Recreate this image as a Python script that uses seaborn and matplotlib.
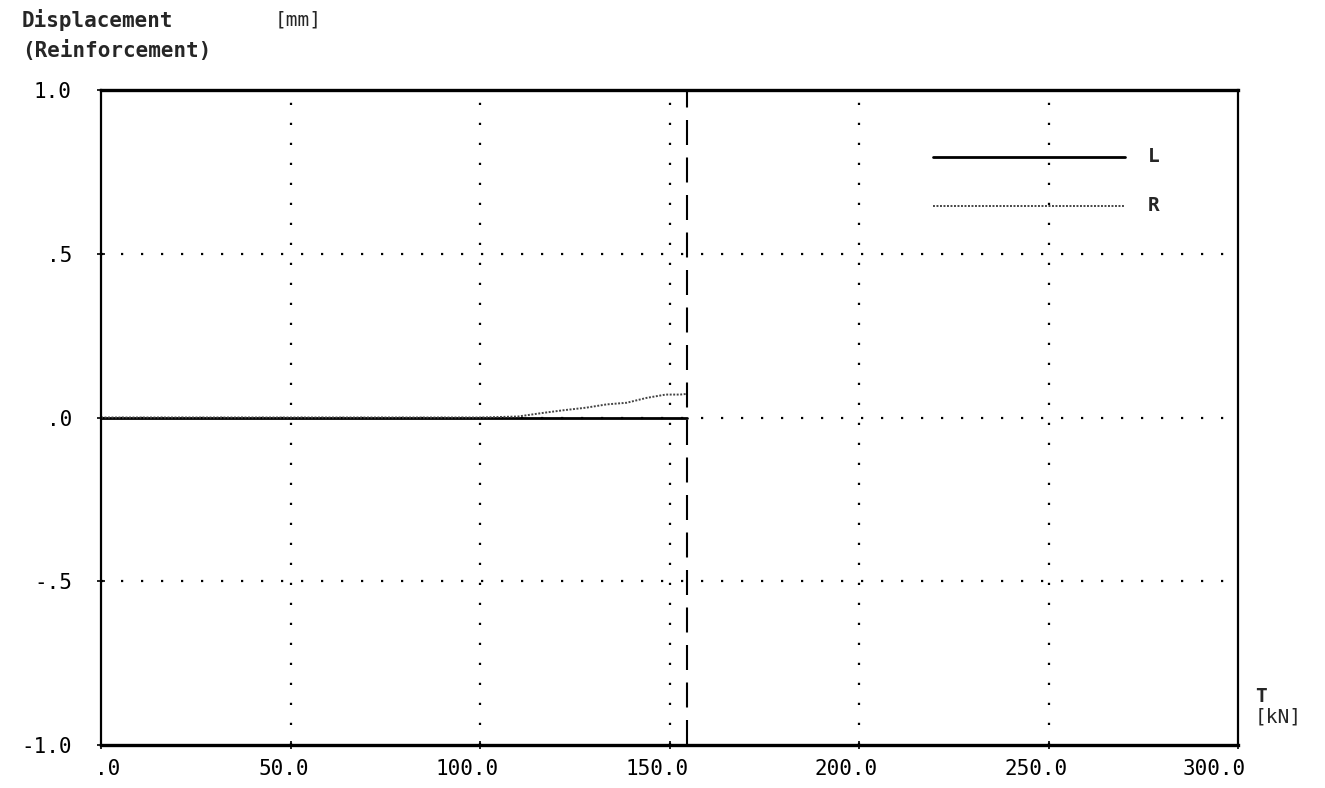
import matplotlib
matplotlib.use("Agg")
import matplotlib.pyplot as plt
import matplotlib.transforms as mtransforms
import seaborn as sns
import pandas as pd

# ---- data ----
T_L = [0.0, 50.0, 100.0, 154.5]
disp_L = [0.0, 0.0, 0.0, 0.0]

T_R = [0.0, 80.0, 100.0, 110.0, 116.6, 121.9, 128.0, 133.4, 138.7, 144.0, 149.0, 152.8, 154.5]
disp_R = [0.0, 0.0, 0.0, 0.003, 0.014, 0.022, 0.030, 0.040, 0.045, 0.060, 0.070, 0.070, 0.072]

failure_load = 154.5

x_ticks = [0, 50, 100, 150, 200, 250, 300]
x_tick_labels = [".0", "50.0", "100.0", "150.0", "200.0", "250.0", "300.0"]
y_ticks = [-1.0, -0.5, 0.0, 0.5, 1.0]
y_tick_labels = ["-1.0", "-.5", ".0", ".5", "1.0"]

legend_labels = ["L", "R"]

# ---- styling ----
sns.set_style("white")
plt.rcParams["font.family"] = ["DejaVu Sans Mono", "DejaVu Sans"]

df_L = pd.DataFrame({"T": T_L, "disp": disp_L})
df_R = pd.DataFrame({"T": T_R, "disp": disp_R})

fig = plt.figure(figsize=(13.25, 7.88), dpi=100)
ax = fig.add_axes([101 / 1325, 1 - 745 / 788, 1137 / 1325, 655 / 788])

sns.lineplot(data=df_L, x="T", y="disp", ax=ax, color="black", linewidth=2.0,
             estimator=None, sort=False)
sns.lineplot(data=df_R, x="T", y="disp", ax=ax, color="#444444", linewidth=1.4,
             estimator=None, sort=False, linestyle=(0, (1, 0.8)))

ax.axvline(failure_load, color="black", linewidth=1.5, linestyle=(0, (12, 6)), zorder=3)

ax.set_xlim(0, 300)
ax.set_ylim(-1.0, 1.0)

# dotted grid
for xv in x_ticks[1:-1]:
    ax.axvline(xv, color="black", linewidth=1.6, linestyle=(0, (1, 8)), zorder=1)
for yv in y_ticks[1:-1]:
    ax.axhline(yv, color="black", linewidth=1.6, linestyle=(0, (1, 8)), zorder=1)

for side in ["top", "bottom"]:
    ax.spines[side].set_linewidth(2.4)
    ax.spines[side].set_color("black")
for side in ["left", "right"]:
    ax.spines[side].set_linewidth(1.6)
    ax.spines[side].set_color("black")
    ax.spines[side].set_visible(True)

ax.set_xticks(x_ticks)
ax.set_xticklabels(x_tick_labels)
ax.set_yticks(y_ticks)
ax.set_yticklabels(y_tick_labels)
ax.tick_params(axis="both", direction="inout", length=6, width=1.2, colors="black",
               labelsize=15, bottom=True, left=True)
ax.tick_params(axis="x", pad=7)
ax.tick_params(axis="y", pad=18)
ax.set_xlabel("")
ax.set_ylabel("")

# x tick labels right-aligned a little past the tick
for i, lab in enumerate(ax.get_xticklabels()):
    dx = 19 if i < len(x_ticks) - 1 else 8
    lab.set_horizontalalignment("right")
    lab.set_transform(lab.get_transform() + mtransforms.ScaledTranslation(dx / 100, 0, fig.dpi_scale_trans))

# legend drawn as in the reference
ax.plot([0.732, 0.9006], [0.898, 0.898], transform=ax.transAxes, color="black", linewidth=2.0)
ax.plot([0.732, 0.9006], [0.823, 0.823], transform=ax.transAxes, color="#444444",
        linewidth=1.4, linestyle=(0, (1, 0.8)))
ax.text(0.921, 0.898, legend_labels[0], transform=ax.transAxes, fontsize=14,
        fontweight="bold", va="center", ha="left")
ax.text(0.921, 0.823, legend_labels[1], transform=ax.transAxes, fontsize=14,
        fontweight="bold", va="center", ha="left")

# titles
fig.text(22 / 1325, 1 - 20 / 788, "Displacement", fontsize=15, fontweight="bold",
         va="center", ha="left")
fig.text(275 / 1325, 1 - 20 / 788, "[mm]", fontsize=14, va="center", ha="left")
fig.text(22 / 1325, 1 - 51 / 788, "(Reinforcement)", fontsize=15, fontweight="bold",
         va="center", ha="left")
fig.text(1255 / 1325, 1 - 697 / 788, "T", fontsize=14, fontweight="bold", va="center", ha="left")
fig.text(1255 / 1325, 1 - 717 / 788, "[kN]", fontsize=14, va="center", ha="left")

fig.savefig("out.png", dpi=100, facecolor="white")
